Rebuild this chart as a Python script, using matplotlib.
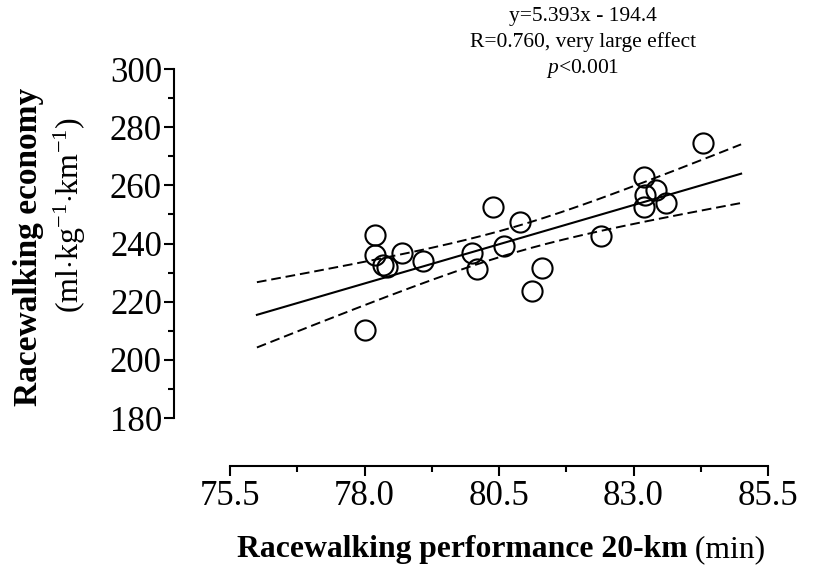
import numpy as np
import matplotlib
matplotlib.use("Agg")
import matplotlib.pyplot as plt

# Racewalking performance (20-km time, min) vs. racewalking economy
performance_min = [80.39, 80.89, 78.20, 78.20, 78.35, 78.41, 78.69, 79.09,
                   80.00, 80.10, 80.60, 81.29, 81.11, 84.30, 83.20, 83.41,
                   83.21, 83.20, 83.60, 82.40, 78.00]
economy = [252.4, 247.3, 242.9, 236.0, 232.6, 232.0, 236.6, 234.1,
           236.6, 231.1, 239.0, 231.6, 223.8, 274.4, 263.0, 258.5,
           256.7, 252.4, 253.9, 242.5, 210.2]

slope, intercept = 5.393, -194.4
fit_range = (76.0, 85.0)
t_crit = 2.093  # two-sided 95 %, df = n - 2

x_ticks = [75.5, 78.0, 80.5, 83.0, 85.5]
y_ticks = [180, 200, 220, 240, 260, 280, 300]

stats_lines = ["y=5.393x - 194.4", "R=0.760, very large effect", r"$p$<0.001"]

plt.rcParams["font.family"] = ["Liberation Serif", "DejaVu Serif"]
plt.rcParams["mathtext.fontset"] = "custom"
plt.rcParams["mathtext.rm"] = "Liberation Serif"
plt.rcParams["mathtext.it"] = "Liberation Serif:italic"
plt.rcParams["mathtext.bf"] = "Liberation Serif:bold"

W, H = 816, 572
fig = plt.figure(figsize=(W / 100, H / 100), dpi=100)

# axes box: left spine at x=174 px, bottom spine at y=466 px
ax_left, ax_right, ax_top, ax_bottom = 174, 768, 69, 466
ax = fig.add_axes([ax_left / W, 1 - ax_bottom / H,
                   (ax_right - ax_left) / W, (ax_bottom - ax_top) / H])

px_per_x = (ax_right - 230) / (85.5 - 75.5)
px_per_y = (418 - ax_top) / (300 - 180)
ax.set_xlim(75.5 - (230 - ax_left) / px_per_x, 85.5)
ax.set_ylim(180 - (ax_bottom - 418) / px_per_y, 300)

x = np.asarray(performance_min)
y = np.asarray(economy)
n = len(x)
resid = y - (slope * x + intercept)
s = np.sqrt(np.sum(resid ** 2) / (n - 2))
xm = x.mean()
sxx = np.sum((x - xm) ** 2)

xf = np.linspace(*fit_range, 200)
yf = slope * xf + intercept
hw = t_crit * s * np.sqrt(1.0 / n + (xf - xm) ** 2 / sxx)

ax.plot(xf, yf, color="black", lw=1.5, zorder=2)
ax.plot(xf, yf + hw, color="black", lw=1.4, ls=(0, (5, 2.5)), zorder=2)
ax.plot(xf, yf - hw, color="black", lw=1.4, ls=(0, (5, 2.5)), zorder=2)

ax.plot(x, y, ls="none", marker="o", ms=14.5, mfc="none", mec="black",
        mew=1.5, zorder=3)

for side in ("top", "right"):
    ax.spines[side].set_visible(False)
for side in ("left", "bottom"):
    ax.spines[side].set_linewidth(1.5)
ax.spines["left"].set_bounds(180, 300)
ax.spines["bottom"].set_bounds(75.5, 85.5)

ax.set_xticks(x_ticks)
ax.set_xticklabels([f"{v:.1f}" for v in x_ticks])
ax.set_xticks([(a + b) / 2 for a, b in zip(x_ticks[:-1], x_ticks[1:])], minor=True)
ax.set_yticks(y_ticks)
ax.set_yticklabels([str(v) for v in y_ticks])
ax.set_yticks([(a + b) / 2 for a, b in zip(y_ticks[:-1], y_ticks[1:])], minor=True)

ax.tick_params(which="major", length=7.2, width=1.5, labelsize=25, color="black")
ax.tick_params(which="minor", length=4.3, width=1.5)
ax.tick_params(axis="x", which="major", pad=3)
ax.tick_params(axis="y", which="major", pad=1.5)

# axis titles: bold part followed by a regular part
renderer = fig.canvas.get_renderer()


def fig_px(xp, yp):
    return xp / W, 1 - yp / H


xb = fig.text(0, 0, "Racewalking performance 20-km", fontsize=22.8,
              fontweight="bold", va="baseline", ha="left")
xn = fig.text(0, 0, " (min)", fontsize=22.8, va="baseline", ha="left")
w1 = xb.get_window_extent(renderer).width
w2 = xn.get_window_extent(renderer).width
x0 = 501 - (w1 + w2) / 2
base_y = 557
xb.set_position(fig_px(x0, base_y))
xn.set_position(fig_px(x0 + w1, base_y))

fig.text(*fig_px(29, 247), "Racewalking economy", fontsize=24,
         fontweight="bold", rotation=90, ha="center", va="center")
fig.text(*fig_px(70, 215), r"(ml$\cdot$kg$^{-1}$$\cdot$km$^{-1}$)",
         fontsize=23, rotation=90, ha="center", va="center")

for i, line in enumerate(stats_lines):
    fig.text(*fig_px(583, 17 + 25.5 * i), line, fontsize=15.5,
             ha="center", va="center")

fig.savefig("out.png", dpi=100)
